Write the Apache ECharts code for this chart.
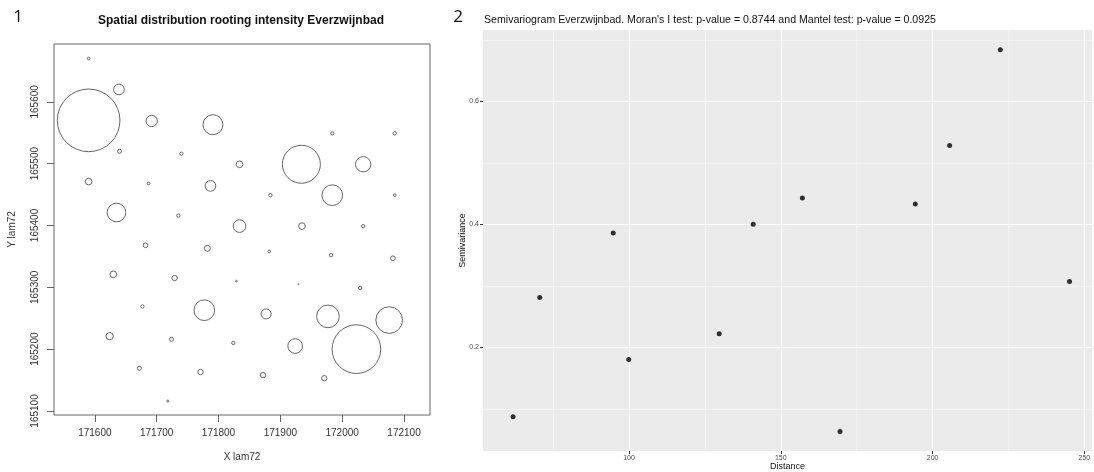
<!DOCTYPE html>
<html>
<head>
<meta charset="utf-8">
<script src="https://cdn.jsdelivr.net/npm/echarts@6/dist/echarts.min.js"></script>
<style>
  html, body { margin: 0; padding: 0; background: #fff; }
  #chart { width: 1094px; height: 472px; }
</style>
</head>
<body>
<div id="chart"></div>
<script>
// panel 1: rooting intensity per sample point (Lambert 72 coordinates)
const lamX = [171590, 171639, 171590, 171692, 171791, 171984, 172085, 171640, 171740, 171834, 171934, 172034,
  171590, 171687, 171787, 171884, 171984, 172085, 171635, 171735, 171834, 171935, 172034, 171682,
  171782, 171882, 171982, 172082, 171630, 171729, 171829, 171929, 172029, 171677, 171777, 171877,
  171977, 172076, 171624, 171724, 171824, 171924, 172023, 171672, 171771, 171872, 171971, 171718];
const lamY = [165670, 165620, 165570, 165569, 165563, 165549, 165549, 165520, 165516, 165499, 165499, 165499,
  165471, 165468, 165464, 165449, 165449, 165449, 165421, 165416, 165399, 165399, 165399, 165368,
  165363, 165358, 165352, 165347, 165321, 165315, 165310, 165305, 165299, 165269, 165263, 165257,
  165253, 165247, 165221, 165216, 165210, 165205, 165200, 165169, 165163, 165158, 165153, 165116];
const intensity = [0.4, 1.6, 9.4, 1.7, 3.0, 0.5, 0.5, 0.6, 0.5, 1.0, 5.7, 2.3,
  1.0, 0.4, 1.6, 0.5, 3.1, 0.4, 2.8, 0.5, 1.9, 1.0, 0.5, 0.7,
  0.9, 0.4, 0.5, 0.7, 1.0, 0.8, 0.25, 0.15, 0.5, 0.5, 3.1, 1.5,
  3.4, 4.0, 1.1, 0.6, 0.5, 2.2, 7.3, 0.6, 0.8, 0.8, 0.8, 0.3];
const lamXTicks = [171600, 171700, 171800, 171900, 172000, 172100];
const lamYTicks = [165100, 165200, 165300, 165400, 165500, 165600];

// panel 2: semivariogram
const distance = [61.8, 70.6, 94.8, 99.9, 129.7, 140.9, 157.1, 169.5, 194.3, 205.6, 222.3, 245.1];
const semivariance = [0.087, 0.281, 0.386, 0.180, 0.222, 0.400, 0.443, 0.063, 0.433, 0.528, 0.684, 0.307];
const distTicks = [100, 150, 200, 250];
const distMinor = [75, 125, 175, 225];
const semiTicks = [0.2, 0.4, 0.6];
const semiMinor = [0.1, 0.3, 0.5, 0.7];

const FONT = 'Liberation Sans, Arial, sans-serif';
const plain = (v) => String(v);

var myChart = echarts.init(document.getElementById('chart'), null, { renderer: 'canvas' });

var option = {
  animation: false,
  backgroundColor: '#fff',
  graphic: [
    { type: 'text', x: 18, y: 17, style: { text: '1', font: '17px "Open Sans", sans-serif', fill: '#111', textAlign: 'center', textVerticalAlign: 'middle' } },
    { type: 'text', x: 458, y: 17, style: { text: '2', font: '17px "Open Sans", sans-serif', fill: '#111', textAlign: 'center', textVerticalAlign: 'middle' } },
    { type: 'text', x: 241, y: 21, style: { text: 'Spatial distribution rooting intensity Everzwijnbad', font: 'bold 12px ' + FONT, fill: '#111', textAlign: 'center', textVerticalAlign: 'middle' } },
    { type: 'text', x: 484, y: 20, style: { text: "Semivariogram Everzwijnbad. Moran's I test: p-value = 0.8744 and Mantel test: p-value = 0.0925", font: '10.6px ' + FONT, fill: '#111', textAlign: 'left', textVerticalAlign: 'middle' } }
  ],
  grid: [
    { left: 54, top: 44, width: 376, height: 371, show: true, borderColor: '#666', borderWidth: 1, backgroundColor: 'transparent', outerBoundsMode: 'none' },
    { left: 483, top: 30, width: 609, height: 421, show: true, borderWidth: 0, backgroundColor: '#EBEBEB', outerBoundsMode: 'none' }
  ],
  xAxis: [
    {
      gridIndex: 0, type: 'value', min: 171534, max: 172142,
      name: 'X lam72', nameLocation: 'middle', nameGap: 37, nameMoveOverlap: false,
      nameTextStyle: { fontFamily: FONT, fontSize: 10, color: '#333' },
      axisLine: { show: false },
      axisTick: { show: true, length: 7, customValues: lamXTicks, lineStyle: { color: '#666' } },
      axisLabel: { customValues: lamXTicks, formatter: plain, fontFamily: FONT, fontSize: 10, color: '#333', margin: 13 },
      splitLine: { show: false }
    },
    {
      gridIndex: 1, type: 'value', min: 51.9, max: 252.5,
      name: 'Distance', nameLocation: 'middle', nameGap: 11, nameMoveOverlap: false,
      nameTextStyle: { fontFamily: FONT, fontSize: 9, color: '#111' },
      axisLine: { show: false },
      axisTick: { show: true, length: 3, customValues: distTicks, lineStyle: { color: '#333' } },
      axisLabel: { customValues: distTicks, formatter: plain, fontFamily: FONT, fontSize: 7, color: '#4d4d4d', margin: 4 },
      splitLine: { show: true, lineStyle: { color: '#fff', width: 1 } }
    },
    {
      gridIndex: 1, type: 'value', min: 51.9, max: 252.5,
      axisLine: { show: false },
      axisTick: { show: false, customValues: distMinor },
      axisLabel: { show: false },
      splitLine: { show: true, lineStyle: { color: '#f7f7f7', width: 0.6 } }
    }
  ],
  yAxis: [
    {
      gridIndex: 0, type: 'value', min: 165093.5, max: 165693.5,
      name: 'Y lam72', nameLocation: 'middle', nameGap: 37, nameRotate: 90, nameMoveOverlap: false,
      nameTextStyle: { fontFamily: FONT, fontSize: 10, color: '#333' },
      axisLine: { show: false },
      axisTick: { show: true, length: 7, customValues: lamYTicks, lineStyle: { color: '#666' } },
      axisLabel: { customValues: lamYTicks, formatter: plain, rotate: 90, fontFamily: FONT, fontSize: 10, color: '#333', margin: 14 },
      splitLine: { show: false }
    },
    {
      gridIndex: 1, type: 'value', min: 0.0314, max: 0.716,
      name: 'Semivariance', nameLocation: 'middle', nameGap: 16, nameRotate: 90, nameMoveOverlap: false,
      nameTextStyle: { fontFamily: FONT, fontSize: 9, color: '#111' },
      axisLine: { show: false },
      axisTick: { show: true, length: 3, customValues: semiTicks, lineStyle: { color: '#333' } },
      axisLabel: { customValues: semiTicks, formatter: plain, fontFamily: FONT, fontSize: 7, color: '#4d4d4d', margin: 4 },
      splitLine: { show: true, lineStyle: { color: '#fff', width: 1 } }
    },
    {
      gridIndex: 1, type: 'value', min: 0.0314, max: 0.716,
      axisLine: { show: false },
      axisTick: { show: false, customValues: semiMinor },
      axisLabel: { show: false },
      splitLine: { show: true, lineStyle: { color: '#f7f7f7', width: 0.6 } }
    }
  ],
  series: [
    {
      name: 'rooting intensity',
      type: 'scatter',
      xAxisIndex: 0, yAxisIndex: 0,
      silent: true,
      data: lamX.map((x, i) => [x, lamY[i], intensity[i]]),
      symbol: 'circle',
      // circle radius proportional to rooting intensity
      symbolSize: (v) => v[2] * 20 / 3,
      itemStyle: { color: 'rgba(0,0,0,0)', borderColor: '#666', borderWidth: 1, opacity: 1 }
    },
    {
      name: 'semivariance',
      type: 'scatter',
      xAxisIndex: 1, yAxisIndex: 1,
      silent: true,
      data: distance.map((d, i) => [d, semivariance[i]]),
      symbol: 'circle',
      symbolSize: 5,
      itemStyle: { color: '#000' }
    }
  ]
};

option && myChart.setOption(option);
</script>
</body>
</html>
